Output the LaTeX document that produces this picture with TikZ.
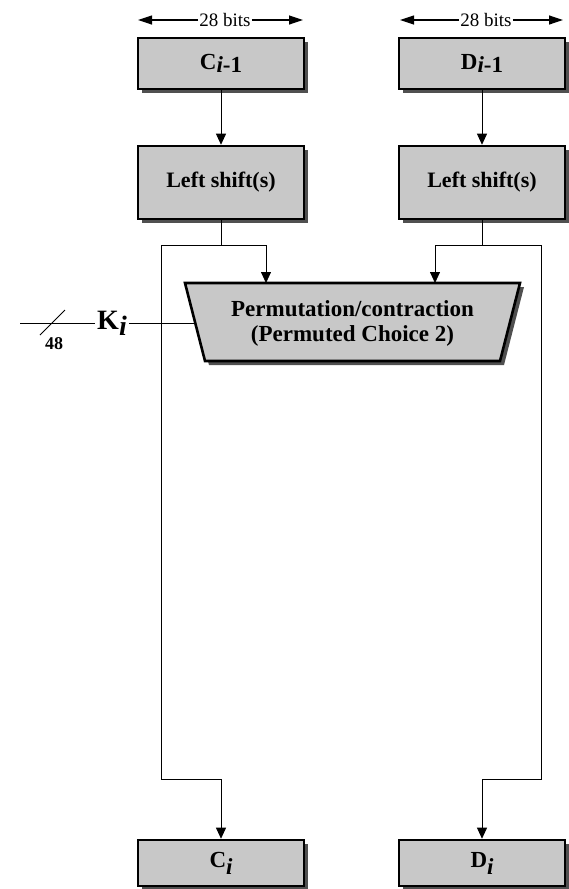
\documentclass[tikz,border=0pt]{standalone}
\usepackage{fontspec}
\setmainfont{Liberation Serif}
\usetikzlibrary{shadows,arrows.meta}
\definecolor{boxgray}{HTML}{C8C8C8}
\definecolor{shadowgray}{HTML}{505050}
\begin{document}
\begin{tikzpicture}[x=1pt,y=-1pt,
  boxshadow/.style={drop shadow={shadow xshift=4pt,shadow yshift=-4pt,fill=shadowgray,opacity=1}},
  keybox/.style={draw=black,line width=2.6pt,fill=boxgray,minimum width=166pt,
    minimum height=51pt,inner sep=0pt,font=\bfseries\fontsize{23}{25}\selectfont,boxshadow},
  shiftbox/.style={keybox,minimum height=73pt,font=\bfseries\fontsize{22}{24}\selectfont},
  outbox/.style={keybox,minimum height=46pt},
  wire/.style={draw=black,line width=0.8pt},
  flow/.style={wire,-{Triangle[length=11pt,width=10pt]}},
  spanarrow/.style={line width=1.2pt,-{Triangle[length=14pt,width=9pt]}},
  bitslabel/.style={inner sep=1pt,font=\fontsize{19}{20}\selectfont}
]
\useasboundingbox (0,0) rectangle (568,889);

% key halves and their shifted forms
\node[keybox]   (cprev) at (221,63.5)  {C\raisebox{-3pt}{\textit{i}-1}};
\node[keybox]   (dprev) at (482,63.5)  {D\raisebox{-3pt}{\textit{i}-1}};
\node[shiftbox] (lsc)   at (221,182.5) {Left shift(s)};
\node[shiftbox] (lsd)   at (482,182.5) {Left shift(s)};
\node[outbox]   (cnext) at (221,863)   {C\raisebox{-7pt}{\textit{i}}};
\node[outbox]   (dnext) at (482,863)   {D\raisebox{-7pt}{\textit{i}}};

% 28-bit width markers
\node[bitslabel] (bitsc) at (225,20) {28 bits};
\node[bitslabel] (bitsd) at (486,20) {28 bits};
\coordinate (bcl) at (138,20);
\coordinate (bcr) at (303,20);
\coordinate (bdl) at (400,20);
\coordinate (bdr) at (563,20);
\draw[spanarrow] (bitsc.west) -- (bcl);
\draw[spanarrow] (bitsc.east) -- (bcr);
\draw[spanarrow] (bitsd.west) -- (bdl);
\draw[spanarrow] (bitsd.east) -- (bdr);

% permuted choice 2
\coordinate (ptl) at (185,283);
\coordinate (ptr) at (520,283);
\coordinate (pbr) at (500,361);
\coordinate (pbl) at (205,361);
\path[draw=black,line width=2.6pt,fill=boxgray,line join=miter,boxshadow]
  (ptl) -- (ptr) -- (pbr) -- (pbl) -- cycle;
\node[align=center,font=\bfseries\fontsize{23}{25}\selectfont] (pc2) at (352.5,323)
  {Permutation/contraction\\(Permuted Choice 2)};
\coordinate (pinc) at (266,283);
\coordinate (pind) at (435,283);
\coordinate (pink) at (195,323);

% round key output
\coordinate (kfar) at (20,323);
\node[inner sep=2pt,font=\bfseries\fontsize{28}{29}\selectfont] (ki) at (112,323)
  {K\raisebox{-6pt}{\textit{i}}};
\node[inner sep=0pt,font=\bfseries\fontsize{18}{19}\selectfont] (kbits) at (54,344) {48};
\coordinate (slasha) at (40,335);
\coordinate (slashb) at (65,310);
\draw[wire] (kfar) -- (ki.west);
\draw[wire] (slasha) -- (slashb);
\draw[wire] (ki.east) -- (pink);

% data paths
\draw[flow] (cprev) -- (lsc);
\draw[flow] (dprev) -- (lsd);

\coordinate (jc)  at (221,245);
\coordinate (jd)  at (482,245);
\coordinate (cl1) at (161,245);
\coordinate (cl2) at (161,779);
\coordinate (cl3) at (221,779);
\coordinate (dr1) at (541,245);
\coordinate (dr2) at (541,779);
\coordinate (dr3) at (482,779);

\draw[wire] (lsc.south) -- (jc);
\draw[wire] (lsd.south) -- (jd);
\draw[flow] (jc) -| (pinc);
\draw[flow] (jd) -| (pind);
\draw[flow] (jc) -- (cl1) -- (cl2) -- (cl3) -- (cnext.north);
\draw[flow] (jd) -- (dr1) -- (dr2) -- (dr3) -- (dnext.north);
\end{tikzpicture}
\end{document}
